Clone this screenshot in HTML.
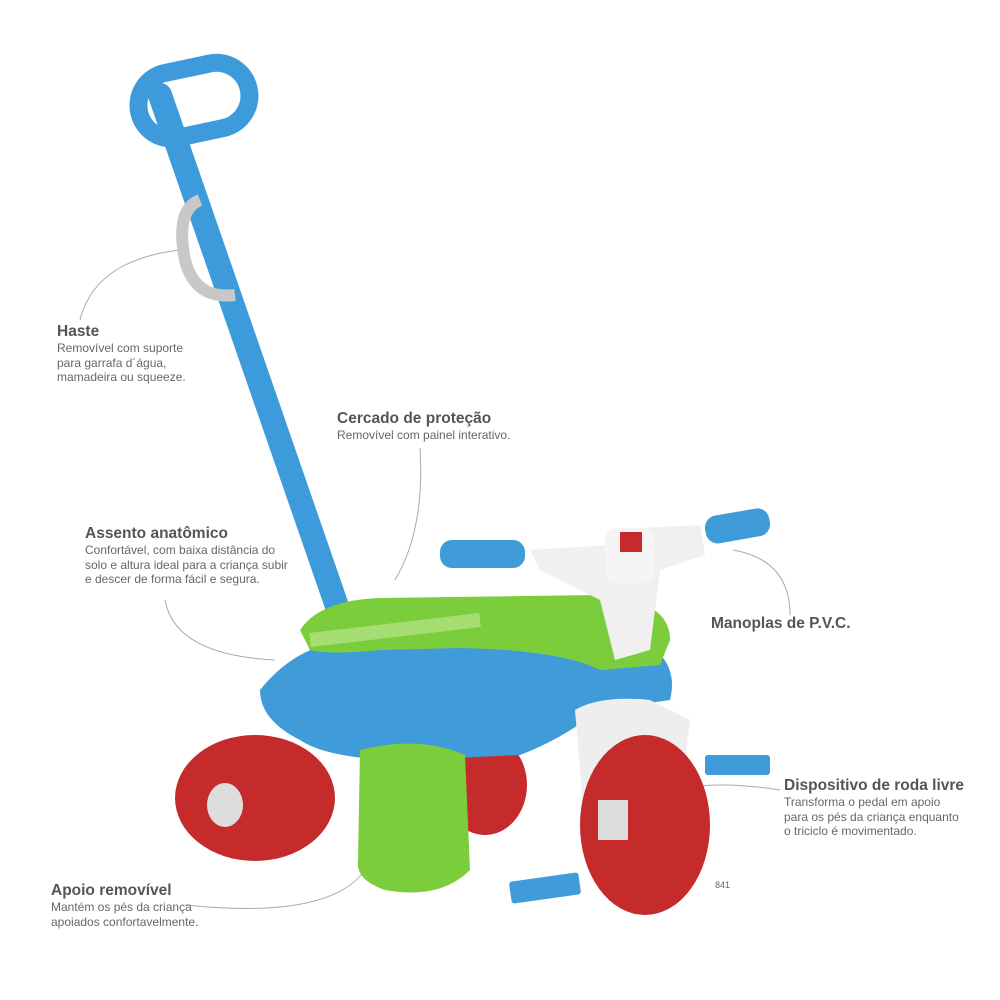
<!DOCTYPE html>
<html><head><meta charset="utf-8"><style>
body{margin:0;background:#fff;width:1000px;height:1000px;overflow:hidden;font-family:"Liberation Sans",sans-serif;}
.t{position:absolute;color:#555;}
.h{font-weight:bold;font-size:15.5px;color:#555;line-height:18px;}
.d{font-size:12px;line-height:14.5px;color:#666;}
</style></head><body>
<svg width="1000" height="1000" style="position:absolute;left:0;top:0">
<g fill="none" stroke="#aaa" stroke-width="1">
<path d="M180,250 Q95,260 80,320"/>
<path d="M420,448 Q425,530 395,580"/>
<path d="M165,600 Q175,655 275,660"/>
<path d="M733,550 Q790,560 790,615"/>
<path d="M780,790 Q650,770 630,830"/>
<path d="M185,905 Q330,920 365,870"/>
</g>
<path d="M160,95 L340,615" stroke="#3d9bdc" stroke-width="24" stroke-linecap="round"/>
<rect x="138" y="68" width="112" height="66" rx="33" fill="none" stroke="#3d9bdc" stroke-width="18" transform="rotate(-12 192 101)"/>
<path d="M200,200 Q175,210 185,260 Q195,300 235,295" fill="none" stroke="#c8c8c8" stroke-width="12"/>
<ellipse cx="485" cy="785" rx="42" ry="50" fill="#c62b2b"/>
<ellipse cx="255" cy="798" rx="80" ry="63" fill="#c62b2b"/>
<ellipse cx="225" cy="805" rx="18" ry="22" fill="#ddd"/>
<path d="M260,690 Q300,640 360,640 L640,640 Q680,660 670,700 L600,710 Q560,740 520,755 L410,760 Q330,760 300,740 Q260,720 260,690Z" fill="#3f9cd9"/>
<path d="M300,630 Q320,600 380,598 L600,595 Q670,600 670,640 L660,665 L600,670 Q560,650 460,648 L380,650 Q330,655 310,650Z" fill="#7ccd3c"/>
<path d="M310,640 L480,620" stroke="#a6dd72" stroke-width="14"/>
<path d="M360,750 Q420,735 465,755 L470,870 Q440,900 385,890 Q355,880 358,860Z" fill="#7ccd3c"/>
<path d="M575,710 Q600,695 650,700 L690,720 L685,760 L640,760 L620,830 L585,830Z" fill="#eee"/>
<ellipse cx="645" cy="825" rx="65" ry="90" fill="#c62b2b"/>
<rect x="598" y="800" width="30" height="40" fill="#ddd"/>
<rect x="510" y="877" width="70" height="22" rx="3" fill="#3f9cd9" transform="rotate(-8 545 888)"/>
<rect x="705" y="755" width="65" height="20" rx="3" fill="#3f9cd9"/>
<path d="M530,550 L610,545 Q615,530 640,528 L700,525 L705,555 L660,570 L650,650 L615,660 L600,600 L540,570Z" fill="#f0f0f0"/>
<rect x="605" y="528" width="50" height="55" rx="12" fill="#f5f5f5"/>
<rect x="620" y="532" width="22" height="20" fill="#c62b2b"/>
<rect x="440" y="540" width="85" height="28" rx="12" fill="#3f9cd9"/>
<rect x="705" y="512" width="65" height="28" rx="12" fill="#3f9cd9" transform="rotate(-10 737 526)"/>
<text x="715" y="888" font-size="9" fill="#666" font-family="Liberation Sans">841</text>
</svg>
<div class="t" style="left:57px;top:323px"><div class="h">Haste</div><div class="d">Removível com suporte<br>para garrafa d´água,<br>mamadeira ou squeeze.</div></div>
<div class="t" style="left:337px;top:410px"><div class="h">Cercado de proteção</div><div class="d">Removível com painel interativo.</div></div>
<div class="t" style="left:85px;top:525px"><div class="h">Assento anatômico</div><div class="d">Confortável, com baixa distância do<br>solo e altura ideal para a criança subir<br>e descer de forma fácil e segura.</div></div>
<div class="t" style="left:711px;top:615px"><div class="h">Manoplas de P.V.C.</div></div>
<div class="t" style="left:784px;top:777px"><div class="h">Dispositivo de roda livre</div><div class="d">Transforma o pedal em apoio<br>para os pés da criança enquanto<br>o triciclo é movimentado.</div></div>
<div class="t" style="left:51px;top:882px"><div class="h">Apoio removível</div><div class="d">Mantém os pés da criança<br>apoiados confortavelmente.</div></div>
</body></html>
